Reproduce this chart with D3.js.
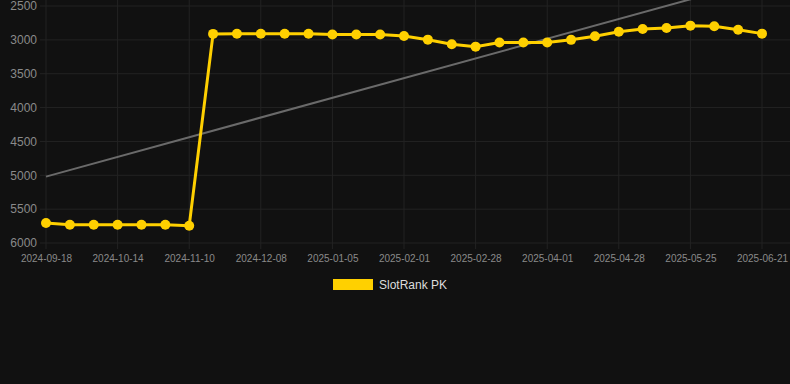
<!DOCTYPE html>
<html>
<head>
<meta charset="utf-8">
<script src="https://cdn.jsdelivr.net/npm/d3@7"></script>
<style>
	body { margin: 0; background: #111111; }
	svg { display: block; font-family: "Liberation Sans", Arial, sans-serif; }
</style>
</head>
<body>
<svg id="chart" width="790" height="384"></svg>
<script>
// dates, one per weekly-ish point; only every third is labelled
const dates = ["2024-09-18","2024-09-27","2024-10-05","2024-10-14","2024-10-23","2024-11-01",
	"2024-11-10","2024-11-19","2024-11-28","2024-12-08","2024-12-17","2024-12-27",
	"2025-01-05","2025-01-14","2025-01-23","2025-02-01","2025-02-10","2025-02-19",
	"2025-02-28","2025-03-10","2025-03-21","2025-04-01","2025-04-10","2025-04-19",
	"2025-04-28","2025-05-07","2025-05-16","2025-05-25","2025-06-03","2025-06-12","2025-06-21"];
const rank = [5705,5730,5730,5730,5730,5730,5745,2912,2910,2910,2910,2910,2922,2920,2920,
	2942,2997,3065,3100,3040,3040,3040,3000,2947,2880,2840,2825,2790,2800,2850,2908];
const trend = [5020,2110];
const yTicks = [2500,3000,3500,4000,4500,5000,5500,6000];
const seriesName = "SlotRank PK";

const svg = d3.select("#chart");
svg.append("rect").attr("width",790).attr("height",384).attr("fill","#111111");

const x = d3.scalePoint().domain(dates).range([46,762]);
const y = d3.scaleLinear().domain([2500,6000]).range([6,243]);
const labelled = dates.filter((d,i) => i % 3 === 0);

// grid
svg.append("g")
   .selectAll("line")
   .data(yTicks)
   .enter()
   .append("line")
   .attr("x1",40).attr("x2",790)
   .attr("y1",d => y(d)).attr("y2",d => y(d))
   .attr("stroke","#232323").attr("stroke-width",1);

svg.append("g")
   .selectAll("line")
   .data(labelled)
   .enter()
   .append("line")
   .attr("x1",d => x(d)).attr("x2",d => x(d))
   .attr("y1",0).attr("y2",249)
   .attr("stroke","#232323").attr("stroke-width",1);

// axes
const yAxis = d3.axisLeft(y).tickValues(yTicks).tickFormat(d3.format("d")).tickSize(0).tickPadding(0);
svg.append("g")
   .attr("transform","translate(37,0)")
   .call(yAxis)
   .call(g => g.select(".domain").remove())
   .selectAll("text")
   .attr("fill","#8a8a8a").attr("font-size","12px");

const xAxis = d3.axisBottom(x).tickValues(labelled).tickSize(0).tickPadding(0);
svg.append("g")
   .attr("transform","translate(0,255)")
   .call(xAxis)
   .call(g => g.select(".domain").remove())
   .selectAll("text")
   .attr("fill","#8a8a8a").attr("font-size","10px");

// trend line
svg.append("line")
   .attr("x1",x(dates[0])).attr("y1",y(trend[0]))
   .attr("x2",x(dates[dates.length-1])).attr("y2",y(trend[1]))
   .attr("stroke","#6a6a6a").attr("stroke-width",2);

// series
svg.append("path")
   .datum(rank)
   .attr("fill","none")
   .attr("stroke","#FFD000")
   .attr("stroke-width",3)
   .attr("d",d3.line().x((d,i) => x(dates[i])).y(d => y(d)));

svg.append("g")
   .selectAll("circle")
   .data(rank)
   .enter()
   .append("circle")
   .attr("cx",(d,i) => x(dates[i]))
   .attr("cy",d => y(d))
   .attr("r",5)
   .attr("fill","#FFD000");

// legend
const legend = svg.append("g").attr("transform","translate(333,279)");
legend.append("rect").attr("width",40).attr("height",11).attr("fill","#FFD000");
legend.append("text")
	  .attr("x",46).attr("y",10)
	  .attr("fill","#dddddd").attr("font-size","12px")
	  .text(seriesName);
</script>
</body>
</html>
